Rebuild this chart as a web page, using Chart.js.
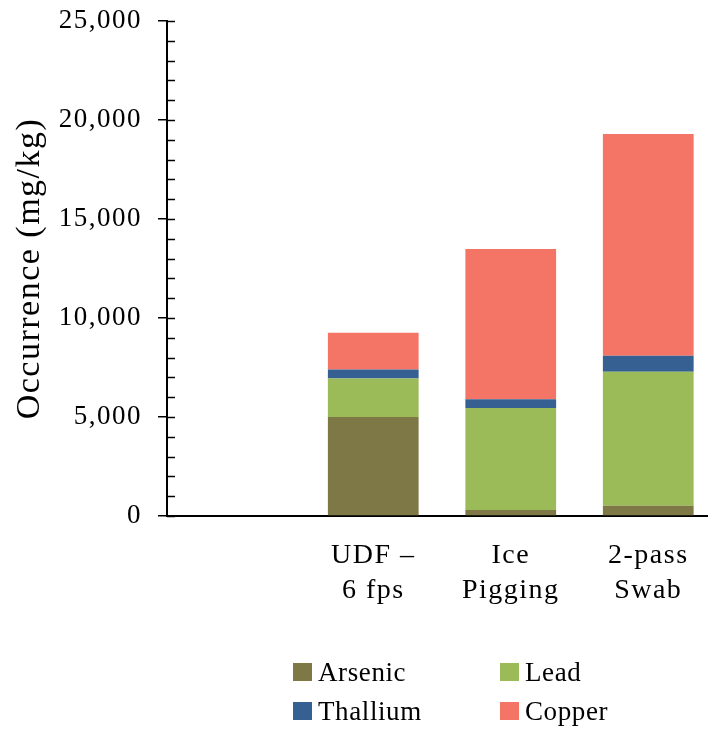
<!DOCTYPE html>
<html>
<head>
<meta charset="utf-8">
<script src="https://cdn.jsdelivr.net/npm/chart.js@4.4.1/dist/chart.umd.min.js"></script>
<style>
    html, body { margin: 0; padding: 0; background: #fff; overflow: hidden; }
    #wrap { position: absolute; left: 0; top: 0; width: 720px; height: 731px; }
    #legend { position: absolute; left: 293px; top: 662px; width: 400px;
        display: grid; grid-template-columns: 207px 190px; row-gap: 19px;
        font-family: "Liberation Serif", "Times New Roman", serif; font-size: 27px; color: #000; }
    .item { display: flex; align-items: center; height: 20px; letter-spacing: 0.6px; }
    .sw { width: 19px; height: 18px; margin-right: 6px; flex: none; }
</style>
</head>
<body>
<div id="wrap"><canvas id="c"></canvas></div>
<div id="legend"></div>
<script>
var categories = ["", ["UDF \u2013", "6 fps"], ["Ice", "Pigging"], ["2-pass", "Swab"]];
var seriesNames = ["Arsenic", "Lead", "Thallium", "Copper"];
var arsenic = [null, 5000, 300, 520];
var lead = [null, 1950, 5150, 6770];
var thallium = [null, 450, 450, 800];
var copper = [null, 1850, 7580, 11200];
var colors = ["#7e7746", "#9bbb59", "#366092", "#f47566"];
var yTicks = [0, 5000, 10000, 15000, 20000, 25000];

var serif = "'Liberation Serif', 'Times New Roman', serif";

// extra spacing between glyphs, as in the original
var spacing = {
    id: "spacing",
    beforeLayout: function (chart) { chart.ctx.letterSpacing = "1.5px"; },
    beforeDraw: function (chart) { chart.ctx.letterSpacing = "1.5px"; }
};

// minor ticks on the inside of the value axis
var minorTicks = {
    id: "minorTicks",
    afterDraw: function (chart) {
        var y = chart.scales.y, ctx = chart.ctx, x0 = chart.chartArea.left;
        ctx.save();
        ctx.strokeStyle = "#000";
        ctx.lineWidth = 1.5;
        for (var v = 0; v <= 25000; v += 1000) {
            var py = Math.round(y.getPixelForValue(v)) + 0.5;
            ctx.beginPath();
            ctx.moveTo(x0, py);
            ctx.lineTo(x0 + 8, py);
            ctx.stroke();
        }
        ctx.restore();
    }
};

var values = [arsenic, lead, thallium, copper];
var datasets = seriesNames.map(function (n, i) {
    return {
        label: n,
        data: values[i],
        backgroundColor: colors[i],
        borderWidth: 0,
        barPercentage: 0.66,
        categoryPercentage: 1
    };
});

var chart = new Chart(document.getElementById("c"), {
    type: "bar",
    data: { labels: categories, datasets: datasets },
    plugins: [spacing, minorTicks],
    options: {
        responsive: true,
        maintainAspectRatio: false,
        animation: false,
        layout: { padding: { top: 21, right: 3, bottom: 0, left: 0 } },
        plugins: { legend: { display: false }, tooltip: { enabled: false } },
        scales: {
            x: {
                stacked: true,
                grid: { display: false, drawTicks: false },
                border: { display: true, color: "#000", width: 2 },
                ticks: {
                    color: "#000",
                    padding: 22,
                    maxRotation: 0,
                    autoSkip: false,
                    font: { family: serif, size: 28, lineHeight: 1.25 }
                },
                afterFit: function (s) { s.height = 215; }
            },
            y: {
                stacked: true,
                min: 0,
                max: 25000,
                afterBuildTicks: function (s) {
                    s.ticks = yTicks.map(function (v) { return { value: v }; });
                },
                grid: { drawOnChartArea: false, drawTicks: true, tickLength: 9, color: "#000", lineWidth: 1.5 },
                border: { display: true, color: "#000", width: 2 },
                ticks: {
                    color: "#000",
                    padding: 16,
                    font: { family: serif, size: 27 },
                    callback: function (v) { return v.toLocaleString("en-US"); }
                },
                title: {
                    display: true,
                    text: "Occurrence (mg/kg)",
                    color: "#000",
                    padding: { top: 10, bottom: 0 },
                    font: { family: serif, size: 34 }
                },
                afterFit: function (s) {
                    s.width = 167;
                    s.paddingTop = 0;
                    s.paddingBottom = 0;
                }
            }
        }
    }
});

var leg = document.getElementById("legend");
chart.data.datasets.forEach(function (d) {
    var it = document.createElement("div");
    it.className = "item";
    var sw = document.createElement("span");
    sw.className = "sw";
    sw.style.background = d.backgroundColor;
    var tx = document.createElement("span");
    tx.textContent = d.label;
    it.appendChild(sw);
    it.appendChild(tx);
    leg.appendChild(it);
});
</script>
</body>
</html>
